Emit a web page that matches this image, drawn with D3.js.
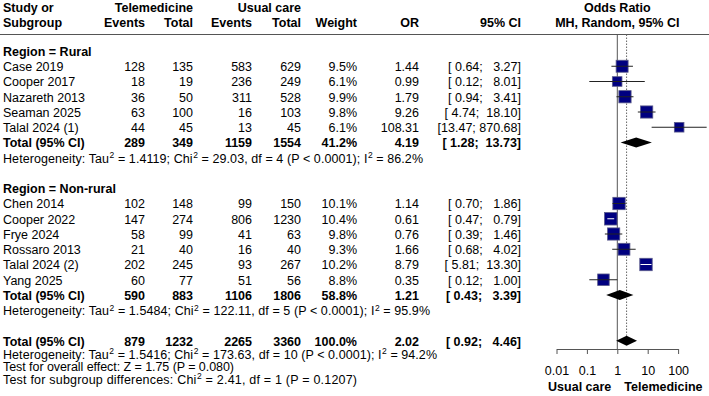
<!DOCTYPE html>
<html>
<head>
<meta charset="utf-8">
<script src="https://cdn.jsdelivr.net/npm/d3@7"></script>
<style>
  body { margin: 0; background: #fff; }
  svg text { font-family: "Liberation Sans", Arial, sans-serif; font-size: 12.5px; fill: #000; white-space: pre; }
</style>
</head>
<body>
<div id="chart"></div>
<script>
// study level data
var studies = ["Case 2019", "Cooper 2017", "Nazareth 2013", "Seaman 2025", "Talal 2024 (1)",
               "Chen 2014", "Cooper 2022", "Frye 2024", "Rossaro 2013", "Talal 2024 (2)", "Yang 2025"];
var studyRegion = ["Rural", "Rural", "Rural", "Rural", "Rural",
                   "Non-rural", "Non-rural", "Non-rural", "Non-rural", "Non-rural", "Non-rural"];
var teleEvents  = [128, 18, 36, 63, 44, 102, 147, 58, 21, 202, 60];
var teleTotal   = [135, 19, 50, 100, 45, 148, 274, 99, 40, 245, 77];
var usualEvents = [583, 236, 311, 16, 13, 99, 806, 41, 16, 93, 51];
var usualTotal  = [629, 249, 528, 103, 45, 150, 1230, 63, 40, 267, 56];
var weights     = [9.5, 6.1, 9.9, 9.8, 6.1, 10.1, 10.4, 9.8, 9.3, 10.2, 8.8];
var oddsRatio   = [1.44, 0.99, 1.79, 9.26, 108.31, 1.14, 0.61, 0.76, 1.66, 8.79, 0.35];
var ciLower     = [0.64, 0.12, 0.94, 4.74, 13.47, 0.70, 0.47, 0.39, 0.68, 5.81, 0.12];
var ciUpper     = [3.27, 8.01, 3.41, 18.10, 870.68, 1.86, 0.79, 1.46, 4.02, 13.30, 1.00];

// subgroup totals
var subgroups      = ["Rural", "Non-rural"];
var subTeleEvents  = [289, 590];
var subTeleTotal   = [349, 883];
var subUsualEvents = [1159, 1106];
var subUsualTotal  = [1554, 1806];
var subWeight      = [41.2, 58.8];
var subOR          = [4.19, 1.21];
var subLower       = [1.28, 0.43];
var subUpper       = [13.73, 3.39];
var subTau2 = ["1.4119", "1.5484"];
var subChi2 = ["29.03", "122.11"];
var subDf   = [4, 5];
var subP    = ["< 0.0001", "< 0.0001"];
var subI2   = ["86.2%", "95.9%"];

// overall
var allTotals = [879, 1232, 2265, 3360];
var allWeight = 100.0;
var allOR = 2.02, allLower = 0.92, allUpper = 4.46;
var allTau2 = "1.5416", allChi2 = "173.63", allDf = 10, allP = "< 0.0001", allI2 = "94.2%";
var overallZ = "1.75", overallP = "0.080";
var diffChi2 = "2.41", diffDf = 1, diffP = "0.1207";

var axisTicks = [0.01, 0.1, 1, 10, 100];
var axisTickLabels = ["0.01", "0.1", "1", "10", "100"];

var width = 709, height = 396;
var svg = d3.select("#chart").append("svg").attr("width", width).attr("height", height);

var x = d3.scaleLog().domain([0.01, 100]).range([556.5, 678.1]);
var y = d3.scaleLinear().domain([0, 19]).range([51, 340.75]);
var side = d3.scaleSqrt().domain([0, 10]).range([0, 12.3]);

var col = {study: 3, teleE: 145, teleT: 193, usualE: 252, usualT: 301, weight: 357, or: 419, ci: 521};
var lineColor = "#555";
var axisY = 349;

function text(xp, yp, s, anchor, bold) {
  return svg.append("text")
    .attr("xml:space", "preserve")
    .attr("x", xp).attr("y", yp).attr("dy", "0.35em")
    .attr("text-anchor", anchor || "start")
    .attr("font-weight", bold ? "bold" : null)
    .text(s);
}

// the footnotes were typeset as plotmath, which spaces them out more;
// stretch them so each line ends where it does in the original
function stretchTo(t, rightX) {
  t.attr("textLength", rightX - col.study).attr("lengthAdjust", "spacing");
  return t;
}

// parts: strings, "^" marks a superscript 2
function supText(xp, yp, parts, rightX) {
  var t = svg.append("text").attr("xml:space", "preserve")
    .attr("x", xp).attr("y", yp).attr("dy", "0.35em");
  var raised = false;
  parts.forEach(function (p) {
    if (p === "^") {
      t.append("tspan").attr("dx", 0.5).attr("dy", -4.5).style("font-size", "8.5px").text("2");
      raised = true;
    } else {
      t.append("tspan").attr("dy", raised ? 4.5 : null).text(p);
      raised = false;
    }
  });
  return stretchTo(t, rightX);
}

function fmtCI(lo, hi) {
  return "[" + lo.toFixed(2).padStart(5, " ") + "; " + hi.toFixed(2).padStart(6, " ") + "]";
}

// header
text(col.study, 8, "Study or", "start", true);
text(col.study, 22.5, "Subgroup", "start", true);
text(col.teleT, 8, "Telemedicine", "end", true);
text(col.usualT, 8, "Usual care", "end", true);
text(col.teleE, 22.5, "Events", "end", true);
text(col.teleT, 22.5, "Total", "end", true);
text(col.usualE, 22.5, "Events", "end", true);
text(col.usualT, 22.5, "Total", "end", true);
text(col.weight, 22.5, "Weight", "end", true);
text(col.or, 22.5, "OR", "end", true);
text(col.ci, 22.5, "95% CI", "end", true);
text(x(1), 8, "Odds Ratio", "middle", true);
text(x(1), 22.5, "MH, Random, 95% CI", "middle", true);

svg.append("line").attr("x1", 0).attr("x2", width).attr("y1", 34.5).attr("y2", 34.5)
  .attr("stroke", lineColor).attr("stroke-width", 1);

// reference lines
svg.append("line").attr("x1", x(1)).attr("x2", x(1)).attr("y1", 34.5).attr("y2", axisY)
  .attr("stroke", lineColor).attr("stroke-width", 1);
svg.append("line").attr("x1", x(allOR)).attr("x2", x(allOR)).attr("y1", 34.5).attr("y2", y(19) - 5)
  .attr("stroke", "#666").attr("stroke-width", 1).attr("stroke-dasharray", "1.5,1.5");

function diamond(r, est, lo, hi) {
  var yc = y(r), h = 5;
  svg.append("path")
    .attr("d", "M" + x(lo) + "," + yc + "L" + x(est) + "," + (yc - h) + "L" + x(hi) + "," + yc +
               "L" + x(est) + "," + (yc + h) + "Z")
    .attr("fill", "#000");
}

var hetRight = [423, 430];
var row = 0;
subgroups.forEach(function (g, gi) {
  text(col.study, y(row) + 0.5, "Region = " + g, "start", true);
  row++;
  studies.forEach(function (s, i) {
    if (studyRegion[i] !== g) return;
    var yc = y(row), ty = yc + 0.5;
    text(col.study, ty, s);
    text(col.teleE, ty, teleEvents[i], "end");
    text(col.teleT, ty, teleTotal[i], "end");
    text(col.usualE, ty, usualEvents[i], "end");
    text(col.usualT, ty, usualTotal[i], "end");
    text(col.weight, ty, weights[i].toFixed(1) + "%", "end");
    text(col.or, ty, oddsRatio[i].toFixed(2), "end");
    text(col.ci, ty, fmtCI(ciLower[i], ciUpper[i]), "end");

    var sz = side(weights[i]), cx = x(oddsRatio[i]);
    svg.append("rect")
      .attr("x", cx - sz / 2).attr("y", yc - sz / 2).attr("width", sz).attr("height", sz)
      .attr("fill", "#000080").attr("stroke", "#5a5a8a").attr("stroke-width", 0.8);
    var inside = x(ciLower[i]) > cx - sz / 2 && x(ciUpper[i]) < cx + sz / 2;
    svg.append("line")
      .attr("x1", x(ciLower[i])).attr("x2", x(ciUpper[i])).attr("y1", yc).attr("y2", yc)
      .attr("stroke", inside ? "#fff" : "#222").attr("stroke-width", 1);
    row++;
  });
  var ty = y(row) + 0.5;
  text(col.study, ty, "Total (95% CI)", "start", true);
  text(col.teleE, ty, subTeleEvents[gi], "end", true);
  text(col.teleT, ty, subTeleTotal[gi], "end", true);
  text(col.usualE, ty, subUsualEvents[gi], "end", true);
  text(col.usualT, ty, subUsualTotal[gi], "end", true);
  text(col.weight, ty, subWeight[gi].toFixed(1) + "%", "end", true);
  text(col.or, ty, subOR[gi].toFixed(2), "end", true);
  text(col.ci, ty, fmtCI(subLower[gi], subUpper[gi]), "end", true);
  diamond(row, subOR[gi], subLower[gi], subUpper[gi]);
  row++;
  supText(col.study, y(row) + 0.5, ["Heterogeneity: Tau", "^", " = " + subTau2[gi] + "; Chi", "^",
    " = " + subChi2[gi] + ", df = " + subDf[gi] + " (P " + subP[gi] + "); I", "^", " = " + subI2[gi]],
    hetRight[gi]);
  row += 2;
});

// overall
var ty = y(row) + 0.5;
text(col.study, ty, "Total (95% CI)", "start", true);
text(col.teleE, ty, allTotals[0], "end", true);
text(col.teleT, ty, allTotals[1], "end", true);
text(col.usualE, ty, allTotals[2], "end", true);
text(col.usualT, ty, allTotals[3], "end", true);
text(col.weight, ty, allWeight.toFixed(1) + "%", "end", true);
text(col.or, ty, allOR.toFixed(2), "end", true);
text(col.ci, ty, fmtCI(allLower, allUpper), "end", true);
diamond(row, allOR, allLower, allUpper);

supText(col.study, y(row + 0.9), ["Heterogeneity: Tau", "^", " = " + allTau2 + "; Chi", "^",
  " = " + allChi2 + ", df = " + allDf + " (P " + allP + "); I", "^", " = " + allI2], 437);
stretchTo(text(col.study, y(row + 1.68), "Test for overall effect: Z = " + overallZ + " (P = " + overallP + ")"), 234);
supText(col.study, y(row + 2.52), ["Test for subgroup differences: Chi", "^",
  " = " + diffChi2 + ", df = " + diffDf + " (P = " + diffP + ")"], 357);

// axis
var ax = svg.append("g").attr("transform", "translate(0," + axisY + ")")
  .call(d3.axisBottom(x).tickValues(axisTicks)
    .tickFormat(function (d, i) { return axisTickLabels[i]; })
    .tickSize(5).tickSizeOuter(0).tickPadding(12));
ax.attr("font-size", null).attr("font-family", null);
ax.select(".domain").attr("stroke", lineColor);
ax.selectAll(".tick line").attr("stroke", lineColor);

text(x(1) - 6, 387, "Usual care", "end", true);
text(x(1) + 7, 387, "Telemedicine", "start", true);
</script>
</body>
</html>
